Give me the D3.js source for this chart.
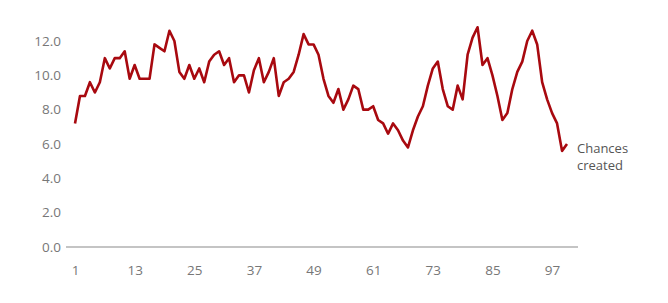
<!DOCTYPE html>
<html>
<head>
<meta charset="utf-8">
<script src="https://cdn.jsdelivr.net/npm/d3@7"></script>
<style>
  body { margin: 0; background: #fff; }
  text { font-family: "Open Sans", sans-serif; }
</style>
</head>
<body>
<script>
const chances = [
  7.2, 8.8, 8.8, 9.6, 9.0, 9.6, 11.0, 10.4, 11.0, 11.0,
  11.4, 9.8, 10.6, 9.8, 9.8, 9.8, 11.8, 11.6, 11.4, 12.6,
  12.0, 10.2, 9.8, 10.6, 9.8, 10.4, 9.6, 10.8, 11.2, 11.4,
  10.6, 11.0, 9.6, 10.0, 10.0, 9.0, 10.3, 11.0, 9.6, 10.2,
  11.0, 8.8, 9.6, 9.8, 10.2, 11.2, 12.4, 11.8, 11.8, 11.2,
  9.8, 8.8, 8.4, 9.2, 8.0, 8.6, 9.4, 9.2, 8.0, 8.0,
  8.2, 7.4, 7.2, 6.6, 7.2, 6.8, 6.2, 5.8, 6.8, 7.6,
  8.2, 9.4, 10.4, 10.8, 9.2, 8.2, 8.0, 9.4, 8.6, 11.2,
  12.2, 12.8, 10.6, 11.0, 10.0, 8.8, 7.4, 7.8, 9.2, 10.2,
  10.8, 12.0, 12.6, 11.8, 9.6, 8.6, 7.8, 7.2, 5.6, 6.0
]
const xTicks = [1, 13, 25, 37, 49, 61, 73, 85, 97]
const yTicks = [0, 2, 4, 6, 8, 10, 12]
const seriesLabel = ['Chances', 'created']

const svg = d3.select('body')
  .append('svg')
  .attr('width', 668)
  .attr('height', 303)

const x = d3.scaleLinear().domain([1, 100]).range([75, 567])
const y = d3.scaleLinear().domain([0, 12]).range([247, 41])

// baseline
svg.append('line')
  .attr('x1', 66).attr('x2', 578)
  .attr('y1', y(0)).attr('y2', y(0))
  .attr('stroke', '#8a8a8a')
  .attr('stroke-width', 1.2)

const yAxis = svg.append('g')
  .attr('transform', 'translate(61,0)')
  .call(d3.axisLeft(y).tickValues(yTicks).tickFormat(d3.format('.1f')).tickSize(0).tickPadding(0))
yAxis.select('.domain').remove()
yAxis.selectAll('text')
  .attr('fill', '#777')
  .style('font-size', '13.5px')

const xAxis = svg.append('g')
  .attr('transform', `translate(0,${y(0) + 18})`)
  .call(d3.axisBottom(x).tickValues(xTicks).tickSize(0).tickPadding(0))
xAxis.select('.domain').remove()
xAxis.selectAll('text')
  .attr('fill', '#777')
  .style('font-size', '13.5px')

const line = d3.line()
  .x((d, i) => x(i + 1))
  .y(d => y(d))

svg.append('path')
  .datum(chances)
  .attr('d', line)
  .attr('fill', 'none')
  .attr('stroke', '#a8090f')
  .attr('stroke-width', 2.6)
  .attr('stroke-linejoin', 'round')

// series label, one text per line
svg.selectAll('.series-label')
  .data(seriesLabel)
  .enter()
  .append('text')
  .attr('class', 'series-label')
  .attr('x', 577)
  .attr('y', (d, i) => 152.5 + i * 17.5)
  .attr('fill', '#555')
  .style('font-size', '13px')
  .text(d => d)
</script>
</body>
</html>
